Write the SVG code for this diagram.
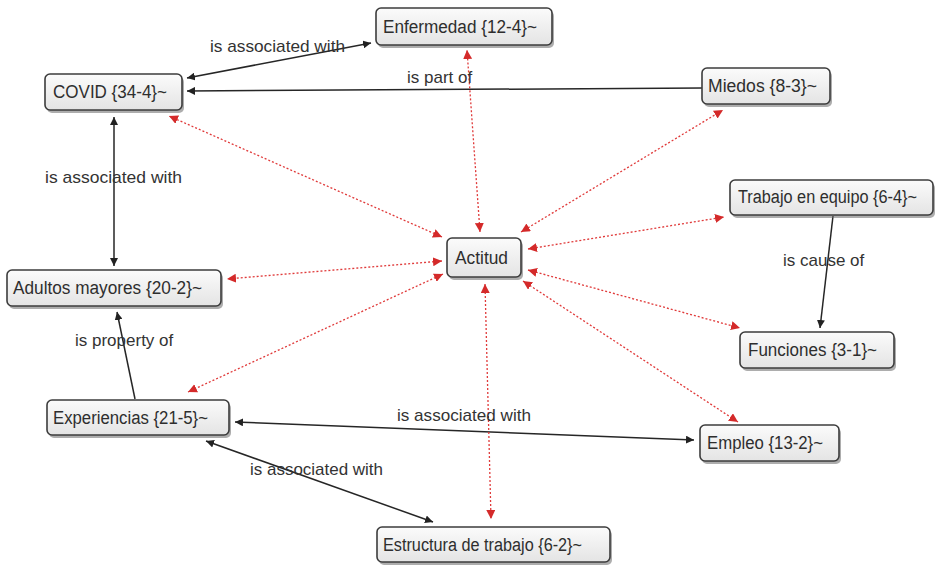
<svg xmlns="http://www.w3.org/2000/svg" width="942" height="566" viewBox="0 0 942 566">
<style>
.box{fill:url(#g);stroke:#3c3c3c;stroke-width:1.6}
.sh{fill:#6a6a6a;opacity:0.55}
.nt{font-family:"Liberation Sans",Arial,sans-serif;font-size:18px;fill:#2e2e2e}
.lb{font-family:"Liberation Sans",Arial,sans-serif;font-size:17px;fill:#333}
.bk{stroke:#262626;stroke-width:1.5;fill:none}
.rd{stroke:#e03a3a;stroke-width:1.3;stroke-dasharray:2 2;fill:none}
</style>
<defs>
<linearGradient id="g" x1="0" y1="0" x2="0" y2="1"><stop offset="0" stop-color="#fbfbfb"/><stop offset="1" stop-color="#e4e4e4"/></linearGradient>
<marker id="ab" viewBox="0 0 10 10" refX="10" refY="5" markerWidth="8" markerHeight="8" markerUnits="userSpaceOnUse" orient="auto-start-reverse"><path d="M0,0 L10,5 L0,10 z" fill="#222"/></marker>
<marker id="ar" viewBox="0 0 10 10" refX="10" refY="5" markerWidth="9" markerHeight="9" markerUnits="userSpaceOnUse" orient="auto-start-reverse"><path d="M0,0 L10,5 L0,10 z" fill="#d42a2a"/></marker>
</defs>
<rect width="942" height="566" fill="#fff"/>
<g id="connectors">
<line class="bk" x1="187" y1="78" x2="371" y2="43" marker-start="url(#ab)" marker-end="url(#ab)"/>
<line class="bk" x1="702" y1="88" x2="187" y2="91" marker-end="url(#ab)"/>
<line class="bk" x1="114" y1="117" x2="114" y2="266" marker-start="url(#ab)" marker-end="url(#ab)"/>
<line class="bk" x1="135" y1="399" x2="117" y2="312" marker-end="url(#ab)"/>
<line class="bk" x1="833" y1="216" x2="820" y2="328" marker-end="url(#ab)"/>
<line class="bk" x1="235" y1="422" x2="694" y2="440" marker-start="url(#ab)" marker-end="url(#ab)"/>
<line class="bk" x1="206" y1="441" x2="433" y2="522" marker-start="url(#ab)" marker-end="url(#ab)"/>
<line class="rd" x1="480" y1="232" x2="467" y2="50" marker-start="url(#ar)" marker-end="url(#ar)"/>
<line class="rd" x1="442" y1="237" x2="169" y2="116" marker-start="url(#ar)" marker-end="url(#ar)"/>
<line class="rd" x1="521" y1="232" x2="723" y2="110" marker-start="url(#ar)" marker-end="url(#ar)"/>
<line class="rd" x1="528" y1="249" x2="724" y2="217" marker-start="url(#ar)" marker-end="url(#ar)"/>
<line class="rd" x1="442" y1="261" x2="227" y2="279" marker-start="url(#ar)" marker-end="url(#ar)"/>
<line class="rd" x1="443" y1="274" x2="188" y2="392" marker-start="url(#ar)" marker-end="url(#ar)"/>
<line class="rd" x1="528" y1="270" x2="740" y2="328" marker-start="url(#ar)" marker-end="url(#ar)"/>
<line class="rd" x1="523" y1="281" x2="738" y2="422" marker-start="url(#ar)" marker-end="url(#ar)"/>
<line class="rd" x1="485" y1="284" x2="491" y2="519" marker-start="url(#ar)" marker-end="url(#ar)"/>
<text class="lb" x="210" y="52" textLength="135" lengthAdjust="spacingAndGlyphs">is associated with</text>
<text class="lb" x="407" y="83">is part of</text>
<text class="lb" x="45" y="183" textLength="137" lengthAdjust="spacingAndGlyphs">is associated with</text>
<text class="lb" x="75" y="346">is property of</text>
<text class="lb" x="783" y="266">is cause of</text>
<text class="lb" x="397" y="421" textLength="134" lengthAdjust="spacingAndGlyphs">is associated with</text>
<text class="lb" x="250" y="475" textLength="133" lengthAdjust="spacingAndGlyphs">is associated with</text>
</g>
<g id="n-enfermedad"><rect class="sh" x="378" y="11" width="176" height="37" rx="5"/><rect class="box" x="376" y="8" width="176" height="37" rx="5"/><text class="nt" x="383" y="33" textLength="154" lengthAdjust="spacingAndGlyphs">Enfermedad {12-4}~</text></g>
<g id="n-covid"><rect class="sh" x="47" y="77" width="137" height="36" rx="5"/><rect class="box" x="45" y="74" width="137" height="36" rx="5"/><text class="nt" x="53" y="98" textLength="114" lengthAdjust="spacingAndGlyphs">COVID {34-4}~</text></g>
<g id="n-miedos"><rect class="sh" x="704" y="71" width="128" height="36" rx="5"/><rect class="box" x="702" y="68" width="128" height="36" rx="5"/><text class="nt" x="708" y="92" textLength="109" lengthAdjust="spacingAndGlyphs">Miedos {8-3}~</text></g>
<g id="n-trabajo-equipo"><rect class="sh" x="732" y="183" width="203" height="35" rx="5"/><rect class="box" x="730" y="180" width="203" height="35" rx="5"/><text class="nt" x="738" y="203" textLength="179" lengthAdjust="spacingAndGlyphs">Trabajo en equipo {6-4}~</text></g>
<g id="n-actitud"><rect class="sh" x="449" y="241" width="74" height="39" rx="5"/><rect class="box" x="447" y="238" width="74" height="39" rx="5"/><text class="nt" x="455" y="264" textLength="53" lengthAdjust="spacingAndGlyphs">Actitud</text></g>
<g id="n-adultos"><rect class="sh" x="9" y="273" width="214" height="36" rx="5"/><rect class="box" x="7" y="270" width="214" height="36" rx="5"/><text class="nt" x="13" y="294" textLength="189" lengthAdjust="spacingAndGlyphs">Adultos mayores {20-2}~</text></g>
<g id="n-funciones"><rect class="sh" x="742" y="335" width="154" height="36" rx="5"/><rect class="box" x="740" y="332" width="154" height="36" rx="5"/><text class="nt" x="748" y="356" textLength="129" lengthAdjust="spacingAndGlyphs">Funciones {3-1}~</text></g>
<g id="n-experiencias"><rect class="sh" x="49" y="403" width="182" height="35" rx="5"/><rect class="box" x="47" y="400" width="182" height="35" rx="5"/><text class="nt" x="53" y="424" textLength="155" lengthAdjust="spacingAndGlyphs">Experiencias {21-5}~</text></g>
<g id="n-empleo"><rect class="sh" x="702" y="428" width="139" height="36" rx="5"/><rect class="box" x="700" y="425" width="139" height="36" rx="5"/><text class="nt" x="707" y="449" textLength="116" lengthAdjust="spacingAndGlyphs">Empleo {13-2}~</text></g>
<g id="n-estructura"><rect class="sh" x="379" y="530" width="233" height="35" rx="5"/><rect class="box" x="377" y="527" width="233" height="35" rx="5"/><text class="nt" x="383" y="551" textLength="199" lengthAdjust="spacingAndGlyphs">Estructura de trabajo {6-2}~</text></g>
</svg>
